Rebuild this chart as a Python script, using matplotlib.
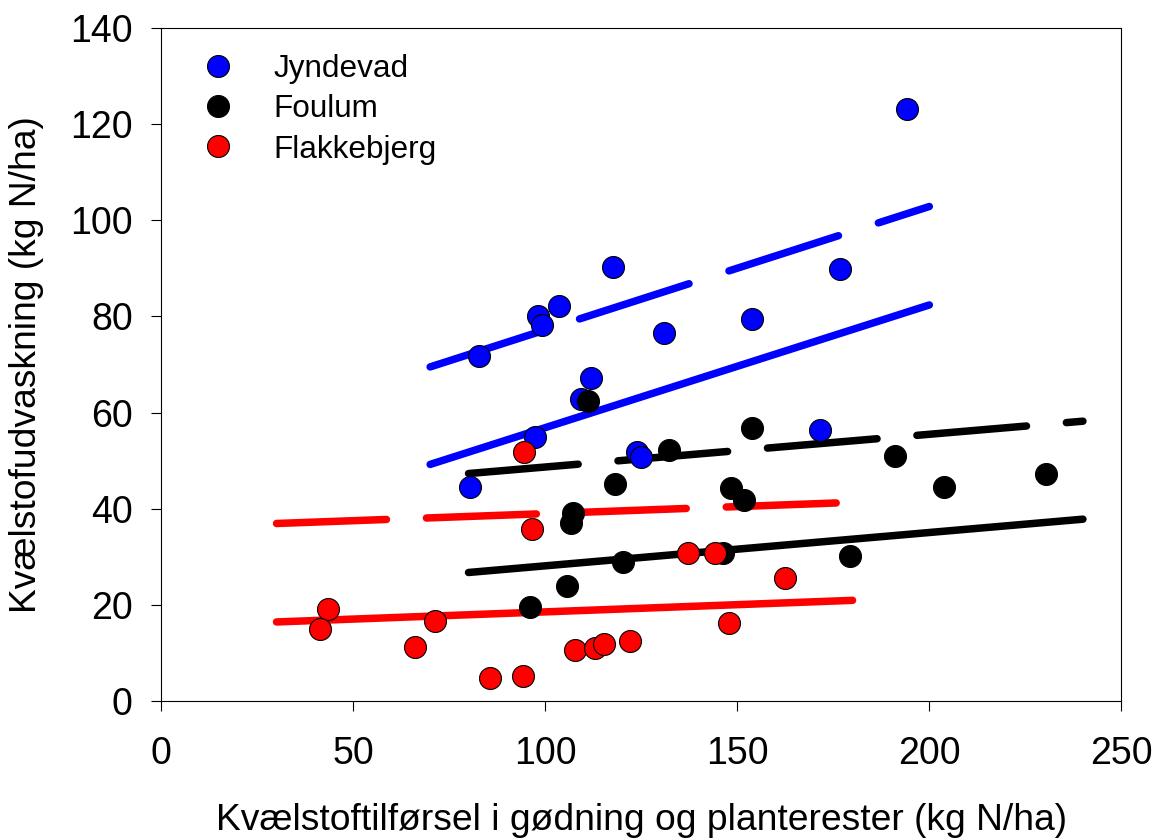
import matplotlib
matplotlib.use("Agg")
import matplotlib.pyplot as plt

plt.rcParams['font.family'] = ['Liberation Sans', 'DejaVu Sans']
plt.rcParams['lines.scale_dashes'] = False

# measured points
jyndevad_x = [194.3, 176.7, 117.6, 103.5, 98.1, 99.1, 82.7, 153.8,
              130.9, 111.9, 109.2, 97.3, 123.9, 124.8, 171.5, 80.4]
jyndevad_y = [123.2, 89.8, 90.2, 82.1, 80.2, 78.2, 71.7, 79.4,
              76.6, 67.1, 62.9, 54.9, 51.8, 50.8, 56.4, 44.6]

foulum_x = [111.1, 132.2, 153.7, 118.1, 148.3, 151.7, 107.1, 106.8,
            105.7, 95.9, 120.1, 146.3, 179.4, 191.0, 203.9, 230.3]
foulum_y = [62.5, 52.3, 56.8, 45.2, 44.3, 41.7, 39.0, 36.9,
            23.9, 19.6, 28.9, 30.7, 30.1, 50.9, 44.5, 47.2]

flakkebjerg_x = [43.3, 41.3, 66.1, 71.3, 85.7, 94.3, 96.4, 94.4,
                 107.7, 112.9, 115.3, 122.0, 137.2, 144.1, 147.7, 162.4]
flakkebjerg_y = [19.1, 15.0, 11.1, 16.6, 4.7, 5.2, 35.7, 51.8,
                 10.6, 10.9, 11.8, 12.4, 30.8, 30.8, 16.1, 25.5]

# regression lines (end points), solid and dashed
jyndevad_fit_x = [70, 200]
jyndevad_fit_solid = [49.2, 82.4]
jyndevad_fit_dash = [69.5, 102.9]

foulum_fit_x = [80, 240]
foulum_fit_solid = [26.7, 37.8]
foulum_fit_dash = [47.3, 58.2]

flakkebjerg_fit_x = [30, 180]
flakkebjerg_fit_solid = [16.4, 20.9]
flakkebjerg_fit_dash = [36.9, 41.3]

labels = ['Jyndevad', 'Foulum', 'Flakkebjerg']
colors = ['#0000ff', '#000000', '#ff0000']

fig = plt.figure(figsize=(11.59, 8.4), dpi=100)
ax = fig.add_axes([0.1392, 0.1658, 0.8283, 0.8005])

LW = 5.4
fits = [
    (jyndevad_fit_x, jyndevad_fit_solid, jyndevad_fit_dash, (82.8, 30.2)),
    (foulum_fit_x, foulum_fit_solid, foulum_fit_dash, (79.2, 28.8)),
    (flakkebjerg_fit_x, flakkebjerg_fit_solid, flakkebjerg_fit_dash, (79.2, 28.8)),
]
for (fx, fs, fd, dash), c in zip(fits, colors):
    ax.plot(fx, fs, color=c, lw=LW, solid_capstyle='round', zorder=2)
    ax.plot(fx, fd, color=c, lw=LW, dashes=dash, dash_capstyle='round', zorder=2)

handles = []
series = [(jyndevad_x, jyndevad_y), (foulum_x, foulum_y), (flakkebjerg_x, flakkebjerg_y)]
for i, ((sx, sy), c, lab) in enumerate(zip(series, colors, labels)):
    h, = ax.plot(sx, sy, ls='none', marker='o', ms=15.8, mfc=c, mec='black',
                 mew=0.8, zorder=3 + i, label=lab)
    handles.append(h)

ax.set_xlim(0, 250)
ax.set_ylim(0, 140)
ax.set_xticks([0, 50, 100, 150, 200, 250])
ax.set_yticks([0, 20, 40, 60, 80, 100, 120, 140])
ax.tick_params(direction='out', length=7, width=0.8, labelsize=27)
ax.tick_params(axis='x', pad=18.5)
ax.tick_params(axis='y', pad=13.5)
for s in ax.spines.values():
    s.set_linewidth(0.8)

ax.set_xlabel('Kvælstoftilførsel i gødning og planterester (kg N/ha)', fontsize=26.8, labelpad=22)
ax.set_ylabel('Kvælstofudvaskning (kg N/ha)', fontsize=26.8, labelpad=19)

ax.legend(handles=handles, loc='upper left', bbox_to_anchor=(0.0266, 0.9613),
          frameon=False, fontsize=22.7, borderpad=0, borderaxespad=0,
          handlelength=2.0, handletextpad=0.746, labelspacing=0.32, numpoints=1)

fig.savefig('out.png', dpi=100)
